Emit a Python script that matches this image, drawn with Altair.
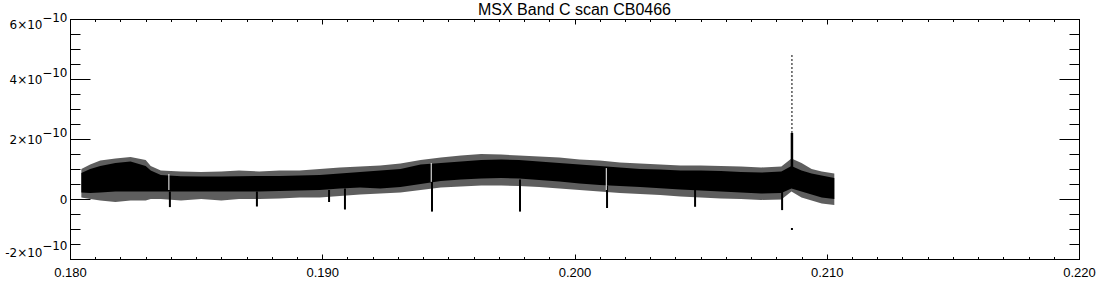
import altair as alt
import pandas as pd

E = 1e-10

# ---- band envelope (units of 1e-10) ----
env_x = [0.18045, 0.1808, 0.1812, 0.1818, 0.1824, 0.1830, 0.1832, 0.1836, 0.1844, 0.1852,
         0.1860, 0.1867, 0.1875, 0.1883, 0.1891, 0.1899, 0.1907, 0.1915, 0.1923, 0.1931,
         0.1939, 0.1947, 0.1955, 0.1963, 0.1971, 0.1978, 0.1986, 0.1994, 0.2002, 0.2010,
         0.2018, 0.2026, 0.2034, 0.2042, 0.2050, 0.2058, 0.2066, 0.2074, 0.2082, 0.2086,
         0.2090, 0.2094, 0.2098, 0.2103]
core_lo = [0.22, 0.20, 0.22, 0.25, 0.25, 0.25, 0.25, 0.25, 0.25, 0.25,
           0.25, 0.25, 0.25, 0.27, 0.28, 0.30, 0.35, 0.38, 0.35, 0.40,
           0.50, 0.60, 0.65, 0.68, 0.70, 0.68, 0.63, 0.58, 0.52, 0.47,
           0.43, 0.40, 0.36, 0.32, 0.28, 0.25, 0.22, 0.18, 0.20, 0.35,
           0.25, 0.15, 0.05, 0.00]
core_hi = [0.87, 1.00, 1.10, 1.20, 1.25, 1.10, 0.95, 0.80, 0.76, 0.75,
           0.75, 0.76, 0.77, 0.77, 0.78, 0.80, 0.85, 0.90, 0.95, 1.00,
           1.15, 1.20, 1.25, 1.30, 1.32, 1.30, 1.25, 1.20, 1.15, 1.10,
           1.05, 1.00, 0.98, 0.95, 0.95, 0.93, 0.90, 0.88, 0.92, 1.10,
           0.95, 0.85, 0.78, 0.70]
spk_lo = [0.05, 0.00, -0.05, -0.10, -0.05, -0.05, 0.00, 0.00, -0.05, 0.00,
          -0.05, 0.00, 0.00, 0.02, 0.05, 0.05, 0.10, 0.15, 0.18, 0.22,
          0.30, 0.38, 0.42, 0.45, 0.45, 0.43, 0.40, 0.35, 0.30, 0.25,
          0.20, 0.17, 0.13, 0.08, 0.05, 0.02, 0.00, -0.03, -0.02, 0.25,
          0.05, -0.05, -0.15, -0.20]
spk_hi = [1.00, 1.15, 1.28, 1.35, 1.40, 1.30, 1.10, 0.95, 0.92, 0.90,
          0.92, 0.95, 0.92, 0.95, 0.95, 1.00, 1.05, 1.08, 1.12, 1.18,
          1.30, 1.38, 1.45, 1.50, 1.48, 1.45, 1.42, 1.38, 1.32, 1.28,
          1.22, 1.18, 1.15, 1.12, 1.12, 1.10, 1.08, 1.05, 1.08, 1.35,
          1.20, 1.00, 0.92, 0.85]

# ---- narrow negative dips ----
dip_x = [0.18396, 0.18741, 0.19027, 0.19090, 0.19435, 0.19784, 0.20129, 0.20478, 0.20823]
dip_top = [0.25, 0.25, 0.30, 0.35, 0.60, 0.65, 0.45, 0.30, 0.25]
dip_bottom = [-0.27, -0.25, -0.10, -0.35, -0.42, -0.42, -0.30, -0.26, -0.37]

# ---- white gaps through the band ----
gap_x = [0.18392, 0.19432, 0.20126]
gap_top = [0.83, 1.20, 1.03]
gap_bottom = [0.30, 0.57, 0.30]

# ---- bright source spike ----
peak_x = [0.20862]
peak_base = [0.85]
peak_dense_top = [2.20]
peak_top = [4.80]
stray_x = [0.20862]
stray_y = [-1.00]

# ---- axis ticks ----
x_major = [0.180, 0.190, 0.200, 0.210, 0.220]
x_minor = [round(0.180 + 0.001 * i, 3) for i in range(41)]
y_major = [-2 * E, 0.0, 2 * E, 4 * E, 6 * E]
y_major_exp = [-2 * E, 2 * E, 4 * E, 6 * E]      # labels written as n×10^-10
y_zero = [0.0]
y_minor = [v * E for v in [-2, -1.5, -1, -0.5, 0, 0.5, 1, 1.5, 2, 2.5, 3, 3.5, 4, 4.5, 5, 5.5, 6]]

env = pd.DataFrame({
    "x": env_x,
    "core_lo": [v * E for v in core_lo],
    "core_hi": [v * E for v in core_hi],
    "spk_lo": [v * E for v in spk_lo],
    "spk_hi": [v * E for v in spk_hi],
})
dips = pd.DataFrame({"x": dip_x, "y": [v * E for v in dip_top], "y2": [v * E for v in dip_bottom]})
gaps = pd.DataFrame({"x": gap_x, "y": [v * E for v in gap_top], "y2": [v * E for v in gap_bottom]})
peak = pd.DataFrame({"x": peak_x, "base": [v * E for v in peak_base],
                     "mid": [v * E for v in peak_dense_top], "top": [v * E for v in peak_top]})
stray = pd.DataFrame({"x": stray_x, "y": [v * E for v in stray_y]})

xs = alt.Scale(domain=[0.18, 0.22], nice=False, zero=False)
ys = alt.Scale(domain=[-2 * E, 6 * E], nice=False, zero=False)

FONT = "Liberation Sans"
YFONT = "DejaVu Sans"
mant_expr = "(round(datum.value * 1e10) < 0 ? '-' : '') + abs(round(datum.value * 1e10)) + '\u00d710'"
exp_expr = "'\u221210'"


def xaxis(orient, vals, size, labels):
    kw = dict(orient=orient, values=vals, tickSize=size, offset=-size, domain=False, grid=False,
              labels=labels, title=None, tickColor="black", tickWidth=1)
    if labels:
        kw.update(format=".3f", labelFontSize=13, labelFont=FONT, labelColor="black",
                  labelPadding=7, labelFlush=False, labelOverlap=False)
    return alt.Axis(**kw)


def yaxis(orient, vals, size, labels):
    return alt.Axis(orient=orient, values=vals, tickSize=size, offset=-size, domain=False, grid=False,
                    labels=labels, title=None, tickColor="black", tickWidth=1)


# mantissa labels "n×10" (with the major left ticks)
y_mant_axis = alt.Axis(orient="left", values=y_major_exp, tickSize=20, offset=-20, domain=False,
                       grid=False, title=None, tickColor="black", tickWidth=1,
                       labelExpr=mant_expr, labelFontSize=12, labelFont=YFONT, labelColor="black",
                       labelPadding=28, labelFlush=True, labelOverlap=False)
# raised exponent labels "−10"
y_exp_axis = alt.Axis(orient="left", values=y_major_exp, ticks=False, offset=0, domain=False,
                      grid=False, title=None, labelExpr=exp_expr, labelFontSize=12, labelFont=YFONT,
                      labelColor="black", labelPadding=3, labelFlush=True, labelOverlap=False,
                      labelOffset=-7)
# the plain "0" label with its major tick
y_zero_axis = alt.Axis(orient="left", values=y_zero, tickSize=20, offset=-20, domain=False,
                       grid=False, title=None, tickColor="black", tickWidth=1,
                       labelExpr="'0'", labelFontSize=12, labelFont=YFONT, labelColor="black",
                       labelPadding=3, labelOverlap=False)

speckle = alt.Chart(env).mark_area(color="#5e5e5e", opacity=1).encode(
    x=alt.X("x:Q", scale=xs, axis=xaxis("bottom", x_major, 5, True)),
    y=alt.Y("spk_lo:Q", scale=ys, axis=y_mant_axis),
    y2="spk_hi:Q",
)
core = alt.Chart(env).mark_area(color="black").encode(
    x=alt.X("x:Q", scale=xs, axis=xaxis("bottom", x_minor, 2.5, False)),
    y=alt.Y("core_lo:Q", scale=ys, axis=yaxis("left", y_minor, 10, False)),
    y2="core_hi:Q",
)
dip_layer = alt.Chart(dips).mark_rule(color="black", strokeWidth=2).encode(
    x=alt.X("x:Q", scale=xs, axis=xaxis("top", x_major, 5, False)),
    y=alt.Y("y:Q", scale=ys, axis=yaxis("right", y_major, 20, False)),
    y2="y2:Q",
)
gap_layer = alt.Chart(gaps).mark_rule(color="white", strokeWidth=1).encode(
    x=alt.X("x:Q", scale=xs, axis=xaxis("top", x_minor, 2.5, False)),
    y=alt.Y("y:Q", scale=ys, axis=yaxis("right", y_minor, 10, False)),
    y2="y2:Q",
)
peak_dense = alt.Chart(peak).mark_rule(color="black", strokeWidth=2.5).encode(
    x=alt.X("x:Q", scale=xs, axis=None),
    y=alt.Y("base:Q", scale=ys, axis=y_exp_axis),
    y2="mid:Q",
)
peak_thin = alt.Chart(peak).mark_rule(color="black", strokeWidth=1, strokeDash=[2, 2]).encode(
    x=alt.X("x:Q", scale=xs, axis=None),
    y=alt.Y("mid:Q", scale=ys, axis=y_zero_axis),
    y2="top:Q",
)
stray_layer = alt.Chart(stray).mark_square(color="black", size=4, opacity=1).encode(
    x=alt.X("x:Q", scale=xs, axis=None),
    y=alt.Y("y:Q", scale=ys, axis=None),
)

chart = alt.layer(
    speckle, core, dip_layer, gap_layer, peak_dense, peak_thin, stray_layer
).resolve_axis(
    x="independent", y="independent"
).properties(
    width=1009,
    height=240,
    autosize=alt.AutoSizeParams(type="none"),
    padding={"left": 70, "top": 19, "right": 21, "bottom": 41},
    background="white",
    title=alt.TitleParams("MSX Band C scan CB0466", fontSize=16, font=FONT, fontWeight="normal",
                          offset=2, dy=9, anchor="middle", frame="group", color="black"),
).configure_view(
    stroke="black", strokeWidth=1
)

chart.save("out.html", embed_options={"renderer": "svg", "actions": False})
